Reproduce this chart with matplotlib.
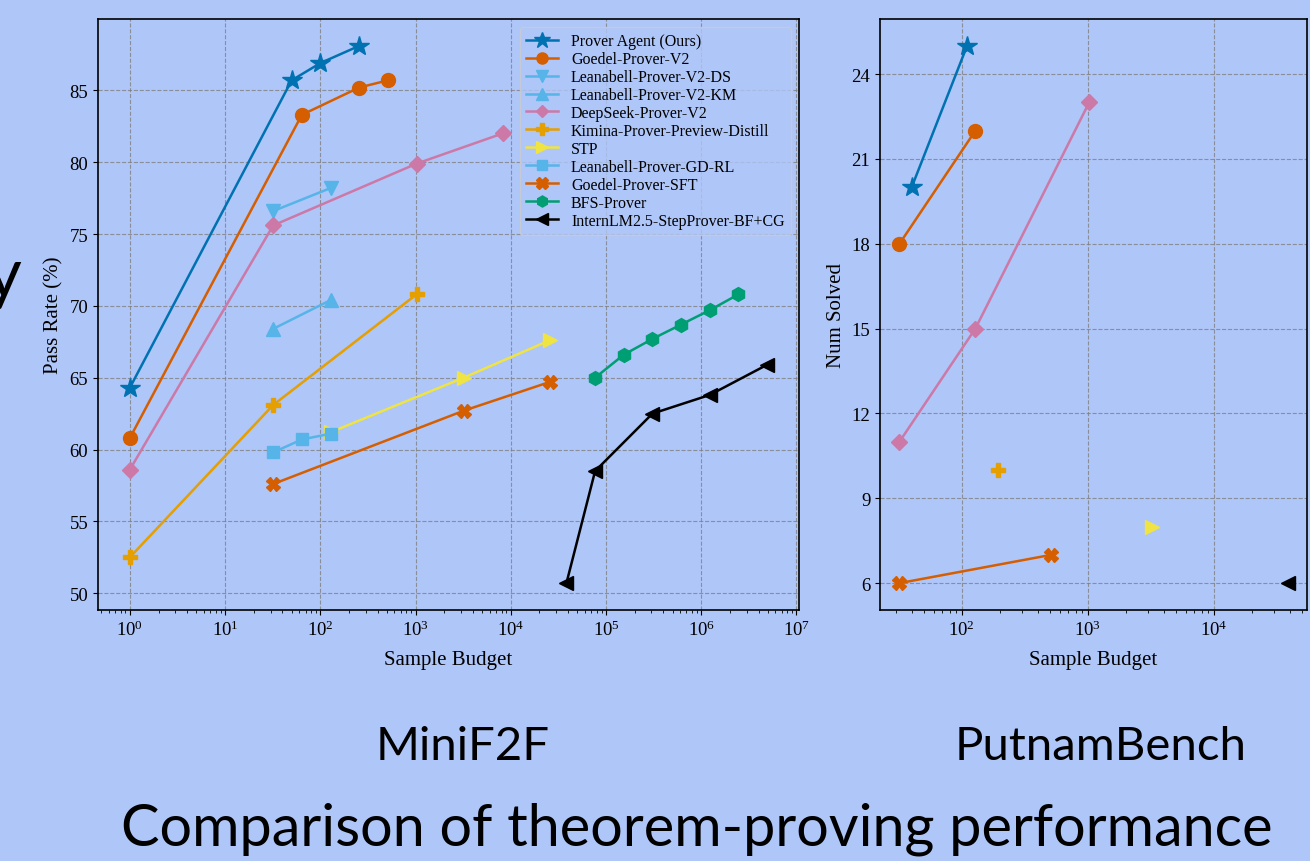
import numpy as np
import matplotlib.pyplot as plt

# MiniF2F 数据 (sample budget, pass rate %)
agent_x = [1, 50, 100, 256]
agent_y = [64.3, 85.7, 86.9, 88.1]
goedel_v2_x = [1, 64, 256, 512]
goedel_v2_y = [60.8, 83.3, 85.2, 85.7]
leanabell_ds_x = [32, 128]
leanabell_ds_y = [76.6, 78.2]
leanabell_km_x = [32, 128]
leanabell_km_y = [68.4, 70.4]
deepseek_x = [1, 32, 1024, 8192]
deepseek_y = [58.6, 75.6, 79.9, 82.0]
kimina_x = [1, 32, 1024]
kimina_y = [52.5, 63.1, 70.8]
stp_x = [128, 3200, 25600]
stp_y = [61.2, 65.0, 67.6]
gd_rl_x = [32, 64, 128]
gd_rl_y = [59.8, 60.7, 61.1]
goedel_sft_x = [32, 3200, 25600]
goedel_sft_y = [57.6, 62.7, 64.7]
bfs_x = [76800, 153600, 307200, 614400, 1228800, 2457600]
bfs_y = [65.0, 66.6, 67.7, 68.7, 69.7, 70.8]
internlm_x = [38400, 76800, 307200, 1228800, 4915200]
internlm_y = [50.7, 58.5, 62.5, 63.8, 65.9]

# PutnamBench 数据 (sample budget, num solved)
p_agent_x = [40, 110]
p_agent_y = [20, 25]
p_goedel_v2_x = [32, 128]
p_goedel_v2_y = [18, 22]
p_deepseek_x = [32, 128, 1024]
p_deepseek_y = [11, 15, 23]
p_kimina_x = [192]
p_kimina_y = [10]
p_stp_x = [3200]
p_stp_y = [8]
p_goedel_sft_x = [32, 512]
p_goedel_sft_y = [6, 7]
p_internlm_x = [38400]
p_internlm_y = [6]
p_yticks = [6, 9, 12, 15, 18, 21, 24]

bg = '#afc6f8'
plt.rcParams['font.family'] = ['Liberation Serif', 'DejaVu Serif']
plt.rcParams['mathtext.fontset'] = 'stix'

fig = plt.figure(figsize=(13.1, 8.62), dpi=100, facecolor=bg)
ax1 = fig.add_axes([0.0748, 0.2912, 0.5351, 0.6856])
ax2 = fig.add_axes([0.6718, 0.2912, 0.3259, 0.6856])

lw = 1.8
ms = 10

# 左图 MiniF2F
ax1.plot(agent_x, agent_y, marker='*', color='#0072B2', lw=lw, ms=ms + 5, label='Prover Agent (Ours)')
ax1.plot(goedel_v2_x, goedel_v2_y, marker='o', color='#D55E00', lw=lw, ms=ms, label='Goedel-Prover-V2')
ax1.plot(leanabell_ds_x, leanabell_ds_y, marker='v', color='#56B4E9', lw=lw, ms=ms, label='Leanabell-Prover-V2-DS')
ax1.plot(leanabell_km_x, leanabell_km_y, marker='^', color='#56B4E9', lw=lw, ms=ms, label='Leanabell-Prover-V2-KM')
ax1.plot(deepseek_x, deepseek_y, marker='D', color='#CC79A7', lw=lw, ms=ms - 2, label='DeepSeek-Prover-V2')
ax1.plot(kimina_x, kimina_y, marker='P', color='#E69F00', lw=lw, ms=ms, label='Kimina-Prover-Preview-Distill')
ax1.plot(stp_x, stp_y, marker='>', color='#F0E442', lw=lw, ms=ms, label='STP')
ax1.plot(gd_rl_x, gd_rl_y, marker='s', color='#56B4E9', lw=lw, ms=ms - 1, label='Leanabell-Prover-GD-RL')
ax1.plot(goedel_sft_x, goedel_sft_y, marker='X', color='#D55E00', lw=lw, ms=ms, label='Goedel-Prover-SFT')
ax1.plot(bfs_x, bfs_y, marker='h', color='#009E73', lw=lw, ms=ms, label='BFS-Prover')
ax1.plot(internlm_x, internlm_y, marker='<', color='#000000', lw=lw, ms=ms, label='InternLM2.5-StepProver-BF+CG')

# 右图 PutnamBench
ax2.plot(p_agent_x, p_agent_y, marker='*', color='#0072B2', lw=lw, ms=ms + 5)
ax2.plot(p_goedel_v2_x, p_goedel_v2_y, marker='o', color='#D55E00', lw=lw, ms=ms)
ax2.plot(p_deepseek_x, p_deepseek_y, marker='D', color='#CC79A7', lw=lw, ms=ms - 2)
ax2.plot(p_kimina_x, p_kimina_y, marker='P', color='#E69F00', lw=lw, ms=ms)
ax2.plot(p_stp_x, p_stp_y, marker='>', color='#F0E442', lw=lw, ms=ms)
ax2.plot(p_goedel_sft_x, p_goedel_sft_y, marker='X', color='#D55E00', lw=lw, ms=ms)
ax2.plot(p_internlm_x, p_internlm_y, marker='<', color='#000000', lw=lw, ms=ms)
ax2.set_yticks(p_yticks)

for ax in (ax1, ax2):
    ax.set_facecolor(bg)
    ax.set_xscale('log')
    ax.grid(True, which='major', linestyle='--', color='gray', linewidth=0.8, alpha=0.8)
    ax.tick_params(labelsize=13.5)
    ax.set_xlabel('Sample Budget', fontsize=15, labelpad=8)
    for s in ax.spines.values():
        s.set_linewidth(1.2)

ax1.set_ylabel('Pass Rate (%)', fontsize=15)
ax2.set_ylabel('Num Solved', fontsize=15)

leg = ax1.legend(loc='upper right', fontsize=11.5, labelspacing=0.12, handlelength=2,
                 markerscale=0.8, facecolor=bg, edgecolor='0.8', framealpha=0.8)

# 幻灯片上的文字
fig.text(0.353, 0.118, 'MiniF2F', fontsize=34, family=['Lato', 'DejaVu Sans'], ha='center', va='baseline')
fig.text(0.840, 0.118, 'PutnamBench', fontsize=34, family=['Lato', 'DejaVu Sans'], ha='center', va='baseline')
fig.text(0.532, 0.019, 'Comparison of theorem-proving performance', fontsize=41.5,
         family=['Lato', 'DejaVu Sans'], ha='center', va='baseline')
fig.text(0.016, 0.655, 'y', fontsize=50, family=['Lato', 'DejaVu Sans'], ha='right', va='baseline')

plt.savefig('out.png', dpi=100, facecolor=bg)
